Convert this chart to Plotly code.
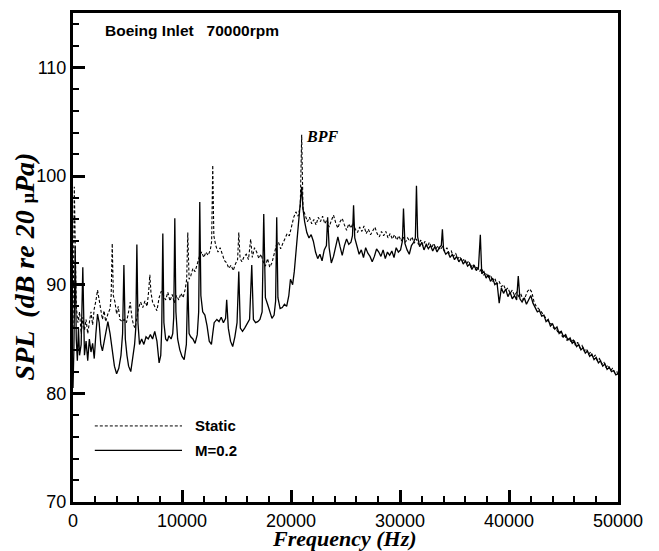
import plotly.graph_objects as go

# ---------------- data ----------------
x_ticks = [0, 10000, 20000, 30000, 40000, 50000]
y_ticks = [70, 80, 90, 100, 110]

# Static (dashed)
static_points = [
    (0, 86.0), (120, 99.0), (300, 88.0), (450, 86.5), (600, 87.5), (750, 85.5), (900, 87.0),
    (1050, 85.8), (1200, 86.8), (1350, 85.5), (1500, 86.5), (1650, 87.5), (1800, 86.3),
    (1950, 87.8), (2100, 88.5), (2250, 89.5), (2400, 88.6), (2550, 87.5), (2700, 86.8),
    (2850, 87.6), (3000, 86.6), (3200, 87.3), (3400, 87.8), (3500, 89.0), (3600, 93.8),
    (3700, 89.0), (3850, 88.4), (4000, 87.3), (4150, 88.0), (4300, 86.8), (4500, 86.6),
    (4700, 86.8), (4900, 86.5), (5100, 87.5), (5250, 88.4), (5400, 87.0), (5550, 86.3),
    (5700, 86.0), (5860, 87.0), (6000, 87.8), (6200, 88.4), (6400, 87.9), (6600, 88.5),
    (6800, 88.0), (6950, 89.5), (7050, 90.9), (7150, 89.3), (7300, 88.4), (7500, 88.0),
    (7700, 87.6), (7900, 88.8), (8100, 89.4), (8300, 89.0), (8500, 88.6), (8700, 89.3),
    (8900, 88.5), (9100, 89.1), (9300, 88.3), (9500, 89.0), (9700, 88.6), (9900, 89.2),
    (10100, 88.8), (10300, 89.6), (10430, 90.5), (10530, 94.8), (10650, 90.5), (10800, 90.8),
    (11000, 91.5), (11200, 91.2), (11400, 92.0), (11600, 92.6), (11800, 93.0), (12000, 92.5),
    (12200, 93.0), (12400, 92.7), (12600, 93.2), (12720, 94.0), (12820, 101.0), (12920, 94.5),
    (13100, 93.6), (13300, 93.0), (13500, 93.4), (13700, 92.7), (13900, 92.2), (14100, 92.0),
    (14300, 91.5), (14500, 91.8), (14700, 91.3), (14900, 91.9), (15100, 92.3), (15210, 94.8),
    (15330, 92.4), (15500, 92.1), (15700, 92.6), (15900, 92.8), (16100, 92.3), (16300, 94.2),
    (16450, 92.5), (16650, 93.4), (16850, 93.0), (17050, 92.4), (17250, 92.8), (17450, 92.1),
    (17650, 91.7), (17850, 92.4), (18050, 91.6), (18250, 92.0), (18450, 92.8), (18650, 93.6),
    (18850, 93.9), (19050, 93.3), (19250, 93.8), (19450, 94.2), (19650, 94.7), (19850, 94.5),
    (20050, 95.5), (20250, 96.2), (20450, 96.7), (20650, 96.3), (20850, 97.2), (20980, 103.8),
    (21100, 97.0), (21300, 96.3), (21500, 95.8), (21700, 96.2), (21900, 95.6), (22100, 96.0),
    (22300, 95.5), (22500, 96.2), (22700, 95.8), (22900, 96.3), (23100, 95.6), (23300, 96.0),
    (23500, 95.3), (23700, 95.9), (23900, 96.4), (24100, 95.7), (24300, 95.2), (24500, 95.8),
    (24700, 96.1), (24900, 95.5), (25100, 95.0), (25300, 95.6), (25500, 95.2), (25700, 95.7),
    (25900, 95.1), (26100, 94.8), (26300, 95.3), (26500, 94.9), (26700, 95.4), (26900, 94.7),
    (27100, 95.1), (27300, 94.6), (27500, 95.0), (27700, 95.3), (27900, 94.7), (28100, 94.4),
    (28300, 94.9), (28500, 94.5), (28700, 94.9), (28900, 94.3), (29100, 94.7), (29300, 94.2),
    (29500, 94.6), (29700, 94.1), (29900, 94.5), (30100, 94.0), (30300, 94.4), (30500, 93.9),
    (30700, 94.3), (30900, 94.0), (31100, 94.4), (31300, 93.8), (31500, 94.2), (31700, 93.7),
    (31900, 94.1), (32100, 93.6), (32300, 94.0), (32500, 93.5), (32700, 93.9), (32900, 93.4),
    (33100, 93.8), (33300, 93.3), (33500, 93.6), (33700, 93.2), (33900, 93.5), (34100, 93.1),
    (34300, 93.4), (34500, 92.9), (34700, 93.1), (34900, 92.6), (35100, 92.9), (35300, 92.4),
    (35500, 92.6), (35700, 92.1), (35900, 92.4), (36100, 91.9), (36300, 92.2), (36500, 91.6),
    (36700, 91.9), (36900, 91.4), (37100, 91.7), (37300, 91.2), (37500, 91.5), (37700, 90.9),
    (37900, 91.1), (38100, 90.6), (38300, 90.9), (38500, 90.3), (38700, 90.6), (38900, 90.0),
    (39100, 90.3), (39300, 89.8), (39500, 90.0), (39700, 89.5), (39900, 89.7), (40100, 89.2),
    (40300, 89.5), (40500, 89.0), (40700, 89.3), (40900, 88.9), (41100, 89.1), (41300, 88.6),
    (41500, 88.9), (41700, 89.4), (41900, 89.6), (42100, 89.3), (42300, 88.4), (42500, 88.0),
    (42700, 87.8), (42900, 87.6), (43100, 87.3), (43300, 87.0), (43500, 86.8), (43700, 86.5),
    (43900, 86.4), (44100, 86.0), (44300, 86.0), (44500, 85.6), (44700, 85.7), (44900, 85.2),
    (45100, 85.4), (45300, 84.9), (45500, 85.1), (45700, 84.7), (45900, 84.9), (46100, 84.4),
    (46300, 84.7), (46500, 84.2), (46700, 84.4), (46900, 83.9), (47100, 84.1), (47300, 83.6),
    (47500, 83.8), (47700, 83.3), (47900, 83.5), (48100, 83.0), (48300, 83.2), (48500, 82.7),
    (48700, 82.9), (48900, 82.4), (49100, 82.6), (49300, 82.1), (49500, 82.3), (49700, 81.9),
    (49900, 82.0), (50000, 81.7),
]

# M=0.2 (solid)
m02_points = [
    (0, 80.5), (80, 84.0), (200, 93.5), (300, 85.0), (400, 83.0), (500, 86.0), (600, 83.5),
    (750, 84.5), (900, 91.6), (1050, 83.5), (1200, 84.8), (1350, 83.0), (1500, 85.0),
    (1650, 83.8), (1800, 84.6), (1950, 83.2), (2100, 85.5), (2250, 87.3), (2400, 86.5),
    (2550, 84.5), (2700, 83.9), (2850, 84.8), (3000, 85.8), (3200, 86.6), (3400, 85.5),
    (3600, 84.0), (3800, 82.5), (4000, 81.8), (4200, 82.3), (4400, 83.5), (4550, 85.5),
    (4670, 91.8), (4800, 85.0), (4950, 83.5), (5100, 82.5), (5300, 82.0), (5450, 83.0),
    (5650, 84.5), (5760, 86.0), (5860, 93.7), (5960, 86.5), (6100, 84.5), (6300, 85.0),
    (6500, 84.5), (6700, 85.2), (6900, 85.0), (7100, 85.4), (7300, 85.0), (7500, 85.7),
    (7700, 84.8), (7900, 82.8), (8050, 83.5), (8140, 86.0), (8240, 94.7), (8340, 86.5),
    (8500, 85.0), (8650, 84.8), (8800, 85.3), (9000, 85.0), (9150, 85.5), (9240, 87.0),
    (9340, 96.1), (9440, 87.5), (9600, 85.0), (9800, 84.0), (10000, 83.4), (10200, 83.1),
    (10400, 84.5), (10530, 90.3), (10650, 85.5), (10800, 85.2), (11000, 85.0), (11200, 84.6),
    (11400, 85.4), (11530, 87.5), (11630, 97.6), (11730, 89.0), (11900, 87.5), (12100, 87.2),
    (12300, 86.2), (12500, 84.8), (12700, 84.5), (12820, 85.5), (12950, 86.5), (13200, 86.8),
    (13400, 86.6), (13600, 87.0), (13800, 86.5), (14000, 86.9), (14100, 88.6), (14250, 86.0),
    (14450, 84.8), (14650, 84.3), (14850, 85.2), (15050, 86.5), (15210, 91.2), (15350, 86.0),
    (15550, 85.7), (15750, 86.0), (16000, 86.4), (16200, 86.8), (16400, 91.8), (16550, 86.8),
    (16750, 86.5), (16950, 86.6), (17150, 86.8), (17350, 87.5), (17500, 96.5), (17650, 88.8),
    (17850, 88.2), (18050, 87.5), (18250, 86.9), (18450, 87.2), (18590, 88.5), (18690, 96.2),
    (18800, 88.8), (19000, 87.8), (19200, 87.9), (19400, 88.2), (19600, 88.0), (19800, 89.0),
    (19950, 90.5), (20150, 90.0), (20300, 91.2), (20500, 93.5), (20700, 95.5), (20850, 97.5),
    (20980, 99.0), (21100, 97.0), (21250, 95.8), (21450, 94.8), (21650, 94.3), (21850, 94.6),
    (22050, 94.0), (22250, 93.0), (22450, 92.4), (22650, 92.8), (22850, 92.2), (23050, 93.2),
    (23250, 93.6), (23360, 96.2), (23500, 93.4), (23700, 92.0), (23900, 92.6), (24100, 93.5),
    (24300, 94.4), (24500, 93.5), (24700, 92.7), (24900, 93.6), (25100, 94.2), (25300, 93.7),
    (25500, 93.9), (25640, 94.5), (25740, 97.3), (25850, 94.3), (26050, 93.6), (26250, 92.8),
    (26450, 93.2), (26650, 92.5), (26850, 93.4), (27050, 92.9), (27250, 92.6), (27450, 92.1),
    (27650, 92.6), (27850, 93.3), (28050, 93.0), (28250, 92.6), (28450, 93.2), (28650, 92.4),
    (28850, 93.0), (29050, 92.7), (29250, 93.1), (29450, 92.5), (29650, 93.4), (29850, 93.0),
    (30050, 93.2), (30220, 94.0), (30320, 97.0), (30450, 93.8), (30650, 93.2), (30850, 92.8),
    (31050, 93.6), (31250, 93.9), (31410, 94.3), (31510, 99.1), (31620, 94.4), (31800, 93.5),
    (32000, 93.9), (32200, 93.2), (32400, 93.7), (32600, 93.3), (32800, 93.6), (33000, 93.1),
    (33200, 93.5), (33400, 93.0), (33600, 93.4), (33790, 93.6), (33890, 95.1), (34000, 93.2),
    (34200, 92.8), (34400, 93.0), (34600, 92.5), (34800, 92.8), (35000, 92.3), (35200, 92.6),
    (35400, 92.1), (35600, 92.4), (35800, 91.9), (36000, 92.2), (36200, 91.7), (36400, 91.9),
    (36600, 91.4), (36800, 91.8), (37000, 91.3), (37200, 91.6), (37370, 94.6), (37500, 91.0),
    (37700, 91.2), (37900, 90.6), (38100, 90.9), (38300, 90.3), (38500, 90.6), (38700, 90.0),
    (38900, 90.2), (39100, 88.3), (39300, 89.7), (39500, 89.2), (39700, 89.6), (39900, 88.9),
    (40100, 89.3), (40300, 88.7), (40500, 89.0), (40700, 88.6), (40850, 90.8), (41000, 88.7),
    (41200, 88.4), (41400, 88.8), (41600, 88.2), (41800, 88.6), (42000, 89.0), (42200, 88.3),
    (42400, 87.9), (42600, 87.5), (42800, 87.6), (43000, 87.1), (43200, 87.2), (43400, 86.6),
    (43600, 86.8), (43800, 86.2), (44000, 86.4), (44200, 85.9), (44400, 86.1), (44600, 85.5),
    (44800, 85.7), (45000, 85.2), (45200, 85.4), (45400, 84.9), (45600, 85.1), (45800, 84.6),
    (46000, 84.8), (46200, 84.3), (46400, 84.5), (46600, 84.0), (46800, 84.2), (47000, 83.7),
    (47200, 83.9), (47400, 83.4), (47600, 83.6), (47800, 83.1), (48000, 83.3), (48200, 82.8),
    (48400, 83.0), (48600, 82.5), (48800, 82.7), (49000, 82.2), (49200, 82.4), (49400, 82.0),
    (49600, 82.1), (49800, 81.7), (50000, 81.8),
]

freq_static = [p[0] for p in static_points]
spl_static = [p[1] for p in static_points]
freq_m02 = [p[0] for p in m02_points]
spl_m02 = [p[1] for p in m02_points]

series_names = ["Static", "M=0.2"]
title_text = "Boeing Inlet   70000rpm"
bpf_label = ("BPF", 21200, 103.6)

# ---------------- figure ----------------
fig = go.Figure()
fig.add_trace(go.Scatter(x=freq_static, y=spl_static, mode="lines", name=series_names[0],
                         line=dict(color="black", width=1.1, dash="3px,2px"), showlegend=False))
fig.add_trace(go.Scatter(x=freq_m02, y=spl_m02, mode="lines", name=series_names[1],
                         line=dict(color="black", width=1.3), showlegend=False))

# hand-drawn style legend inside plot
leg_x0, leg_x1, leg_text_x = 2000, 10000, 11000
leg_y = [77.0, 74.75]
fig.add_shape(type="line", xref="x", yref="y", x0=leg_x0, x1=leg_x1, y0=leg_y[0], y1=leg_y[0],
              line=dict(color="black", width=1, dash="3px,2px"))
fig.add_shape(type="line", xref="x", yref="y", x0=leg_x0, x1=leg_x1, y0=leg_y[1], y1=leg_y[1],
              line=dict(color="black", width=1.3))
for name, yy in zip(series_names, leg_y):
    fig.add_annotation(x=leg_text_x, y=yy, xref="x", yref="y", text="<b>%s</b>" % name,
                       showarrow=False, xanchor="left", yanchor="middle",
                       font=dict(family="Liberation Sans, Arial", size=15, color="black"))

# title inside plot
fig.add_annotation(x=0.055, y=0.9634, xref="paper", yref="paper", text="<b>%s</b>" % title_text,
                   showarrow=False, xanchor="left", yanchor="middle",
                   font=dict(family="Liberation Sans, Arial", size=15.5, color="black"))

# BPF label
fig.add_annotation(x=bpf_label[1], y=bpf_label[2], xref="x", yref="y",
                   text="<b><i>%s</i></b>" % bpf_label[0], showarrow=False,
                   xanchor="left", yanchor="middle",
                   font=dict(family="Liberation Serif, Times New Roman", size=16, color="black"))

# axis titles
fig.add_annotation(x=0.499, y=-0.0745, xref="paper", yref="paper",
                   text="<b><i>Frequency (Hz)</i></b>", showarrow=False,
                   xanchor="center", yanchor="middle",
                   font=dict(family="Liberation Serif, Times New Roman", size=22, color="black"))
fig.add_annotation(x=-0.09, y=0.4817, xref="paper", yref="paper",
                   text="<b><i>SPL  (dB re 20 <span style='font-style:normal;font-size:18px'>μ</span>Pa)</i></b>",
                   showarrow=False, textangle=-90, xanchor="center", yanchor="middle",
                   font=dict(family="Liberation Serif, Times New Roman", size=28, color="black"))

axis_common = dict(showline=True, mirror=True, linecolor="black", linewidth=3,
                   ticks="inside", tickcolor="black", showgrid=False, zeroline=False,
                   tickfont=dict(family="Liberation Sans, Arial", size=18, color="black"))

fig.update_xaxes(range=[0, 50000], tickvals=x_ticks, ticktext=[str(v) for v in x_ticks],
                 ticklen=12, tickwidth=2.5,
                 minor=dict(ticks="inside", dtick=2000, ticklen=6, tickwidth=1.5, tickcolor="black",
                            showgrid=False),
                 **axis_common)
fig.update_yaxes(range=[70, 115], tickvals=y_ticks, ticktext=[str(v) for v in y_ticks],
                 ticklen=12, tickwidth=2.5,
                 minor=dict(ticks="inside", dtick=2, ticklen=6, tickwidth=1.5, tickcolor="black",
                            showgrid=False),
                 **axis_common)

# page body has an 8px margin, so the figure is sized to fit the 659x551 window
fig.update_layout(width=651, height=543, margin=dict(l=65, r=41, t=2, b=49),
                  paper_bgcolor="white", plot_bgcolor="white", showlegend=False)

fig.write_html("out.html")
